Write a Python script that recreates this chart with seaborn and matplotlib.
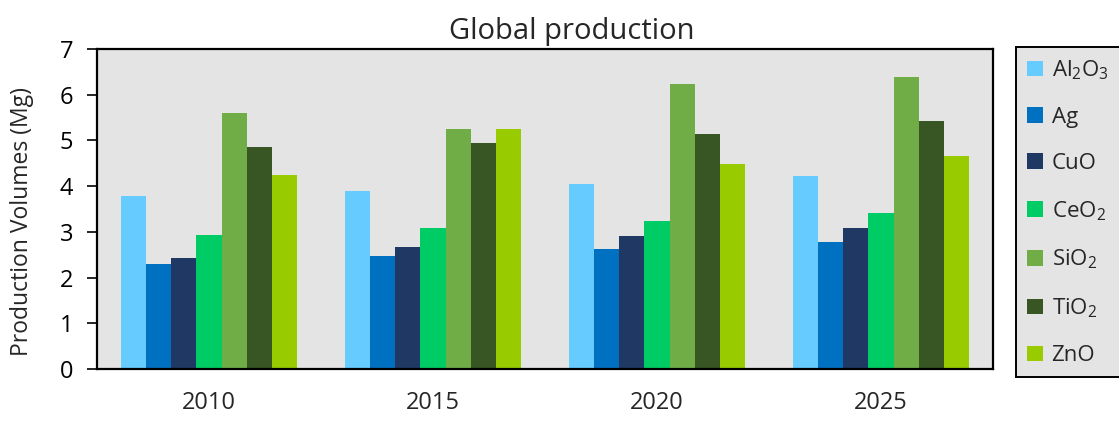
import matplotlib
matplotlib.use("Agg")
import matplotlib.pyplot as plt
import seaborn as sns
import pandas as pd

# Production volumes (Mg) per material and year
years = ["2010", "2015", "2020", "2025"]
materials = ["Al$_2$O$_3$", "Ag", "CuO", "CeO$_2$", "SiO$_2$", "TiO$_2$", "ZnO"]
al2o3 = [3.78, 3.89, 4.05, 4.22]
ag = [2.30, 2.47, 2.62, 2.78]
cuo = [2.42, 2.67, 2.90, 3.08]
ceo2 = [2.93, 3.08, 3.23, 3.41]
sio2 = [5.60, 5.24, 6.24, 6.38]
tio2 = [4.85, 4.95, 5.14, 5.42]
zno = [4.25, 5.24, 4.48, 4.65]
colors = ["#66CCFF", "#0070C0", "#203864", "#00CC66", "#70AD47", "#375623", "#99CC00"]

series = [al2o3, ag, cuo, ceo2, sio2, tio2, zno]
rows = []
for name, vals in zip(materials, series):
    for yr, v in zip(years, vals):
        rows.append({"Year": yr, "Material": name, "Volume": v})
df = pd.DataFrame(rows)

sns.set_theme(style="white")
plt.rcParams["font.family"] = ["Open Sans", "DejaVu Sans"]
plt.rcParams["mathtext.default"] = "regular"

fig = plt.figure(figsize=(11.19, 4.21), dpi=100)
ax = fig.add_axes([0.0867, 0.1235, 0.8007, 0.7601])
ax.set_facecolor("#E4E4E4")

sns.barplot(data=df, x="Year", y="Volume", hue="Material", order=years,
            hue_order=materials, palette=colors, width=0.79, saturation=1,
            linewidth=0, ax=ax, legend=True)

ax.set_ylim(0, 7)
ax.set_yticks(range(0, 8))
ax.set_xlabel("")
ax.set_ylabel("Production Volumes (Mg)", fontsize=16.5)
ax.yaxis.set_label_coords(-0.0703, 0.4625)
ax.set_title("Global production", fontsize=21, pad=7, x=0.5296)
ax.tick_params(axis="y", direction="out", length=7, width=1.2, colors="black",
               labelsize=17, left=True, pad=10)
ax.tick_params(axis="x", length=0, labelsize=17, pad=16)
for s in ax.spines.values():
    s.set_visible(True)
    s.set_color("black")
    s.set_linewidth(1.6)

handles, labels = ax.get_legend_handles_labels()
ax.get_legend().remove()
leg = fig.legend(handles, labels, loc="upper left",
                 bbox_to_anchor=(1016 / 1119, 1 - 47 / 421), frameon=True,
                 fontsize=16, handlelength=0.7, handleheight=0.7,
                 handletextpad=0.4, labelspacing=1.13, borderpad=0.5,
                 borderaxespad=0, fancybox=False)
leg.get_frame().set_facecolor("#E4E4E4")
leg.get_frame().set_edgecolor("black")
leg.get_frame().set_linewidth(1.4)
leg.get_frame().set_alpha(1)

fig.savefig("out.png", dpi=100, facecolor="white")
